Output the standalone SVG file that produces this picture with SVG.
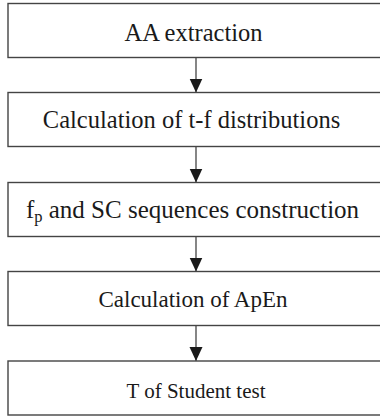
<svg xmlns="http://www.w3.org/2000/svg" width="380" height="416" viewBox="0 0 380 416">
  <style>
    .box { fill: #ffffff; stroke: #444444; stroke-width: 1.4; }
    .edge { stroke: #444444; stroke-width: 1.3; fill: none; }
    text { font-family: "Liberation Serif", "Times New Roman", serif; font-size: 24.5px; fill: #1a1a1a; text-anchor: middle; }
  </style>
  <defs>
    <marker id="head" viewBox="0 0 14 14" refX="14" refY="7" markerWidth="14" markerHeight="14" markerUnits="userSpaceOnUse" orient="auto">
      <path d="M0,0.5 L14,7 L0,13.5 Z" fill="#1a1a1a"/>
    </marker>
  </defs>
  <rect width="380" height="416" fill="#ffffff"/>

  <g id="connectors">
    <line class="edge" x1="196" y1="57.5" x2="196" y2="92.5" marker-end="url(#head)"/>
    <line class="edge" x1="196" y1="146.5" x2="196" y2="182.5" marker-end="url(#head)"/>
    <line class="edge" x1="196" y1="236.5" x2="196" y2="271.5" marker-end="url(#head)"/>
    <line class="edge" x1="196" y1="325.5" x2="196" y2="361" marker-end="url(#head)"/>
  </g>

  <g id="n1">
    <rect class="box" x="8" y="3.5" width="380" height="54"/>
    <text x="193.5" y="40.5">AA extraction</text>
  </g>
  <g id="n2">
    <rect class="box" x="8" y="92.5" width="380" height="54"/>
    <text x="191.5" y="128">Calculation of t-f distributions</text>
  </g>
  <g id="n3">
    <rect class="box" x="8" y="182.5" width="380" height="54"/>
    <text x="192.5" y="218" style="font-size:25px">f<tspan font-size="16.5" dy="4">p</tspan><tspan dy="-4"> and SC sequences construction</tspan></text>
  </g>
  <g id="n4">
    <rect class="box" x="8" y="271.5" width="380" height="54"/>
    <text x="193" y="307" style="font-size:23px">Calculation of ApEn</text>
  </g>
  <g id="n5">
    <rect class="box" x="8" y="361" width="380" height="54"/>
    <text x="196" y="398" style="font-size:21px">T of Student test</text>
  </g>
</svg>
